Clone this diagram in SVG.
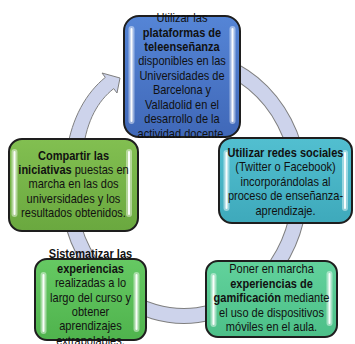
<svg xmlns="http://www.w3.org/2000/svg" width="355" height="344" viewBox="0 0 355 344">
<defs>
<linearGradient id="gBlue" x1="0" y1="0" x2="0" y2="1"><stop offset="0" stop-color="#5585d6"/><stop offset="1" stop-color="#4068b8"/></linearGradient>
<linearGradient id="gCyan" x1="0" y1="0" x2="0" y2="1"><stop offset="0" stop-color="#52bfd0"/><stop offset="1" stop-color="#3ea9bb"/></linearGradient>
<linearGradient id="gTeal" x1="0" y1="0" x2="0" y2="1"><stop offset="0" stop-color="#62d29c"/><stop offset="1" stop-color="#4cbf88"/></linearGradient>
<linearGradient id="gGreen" x1="0" y1="0" x2="0" y2="1"><stop offset="0" stop-color="#66c963"/><stop offset="1" stop-color="#4fb34d"/></linearGradient>
<linearGradient id="gOlive" x1="0" y1="0" x2="0" y2="1"><stop offset="0" stop-color="#82bf51"/><stop offset="1" stop-color="#6aa83f"/></linearGradient>
</defs>
<style>
.box{stroke:#1e1e1e;stroke-width:2}
.glow{fill:#ffffff;opacity:0.45}
.hl{fill:#ffffff;opacity:0.95}
.t{font-family:"Liberation Sans",Arial,sans-serif;font-size:12px;fill:#111111;text-anchor:middle}
.b{font-weight:bold}
.ringO{fill:none;stroke:#7f7f7f;stroke-width:16}
.ringI{fill:none;stroke:#cdd3eb;stroke-width:14}
.arrow{fill:#cdd3eb;stroke:#7f7f7f;stroke-width:1}
</style>
<g id="connectors">
<path class="ringO" d="M214,62.4 A116,129 0 1 1 71.95,153.6"/>
<path class="ringI" d="M214,62.4 A116,129 0 1 1 71.95,153.6"/>
<path class="arrow" d="M67,150 C72,118 86,93 105.3,77.4 L102,73 L120,78 L117,93 L113.7,88.6 C98,101 87,120 83,150 Z"/>
</g>
<g id="node1">
<rect class="box" x="124" y="16" width="116" height="121" rx="15" fill="url(#gBlue)"/>
<rect class="glow" x="128.5" y="26" width="6" height="98" rx="3"/>
<rect class="hl" x="130.5" y="28" width="2" height="94" rx="1"/>
<rect class="glow" x="229.5" y="26" width="6" height="98" rx="3"/>
<rect class="hl" x="231.5" y="28" width="2" height="94" rx="1"/>
<g transform="translate(182,0) scale(0.92,1)">
<text class="t" x="0" y="22">Utilizar las</text>
<text class="t b" x="0" y="37">plataformas de</text>
<text class="t b" x="0" y="51">teleenseñanza</text>
<text class="t" x="0" y="65.5">disponibles en las</text>
<text class="t" x="0" y="80">Universidades de</text>
<text class="t" x="0" y="94.5">Barcelona y</text>
<text class="t" x="0" y="109">Valladolid en el</text>
<text class="t" x="0" y="123.5">desarrollo de la</text>
<text class="t" x="0" y="138">actividad docente.</text>
</g>
</g>
<g id="node2">
<rect class="box" x="219" y="138" width="133" height="85" rx="13" fill="url(#gCyan)"/>
<rect class="glow" x="223.5" y="150" width="6" height="61" rx="3"/>
<rect class="hl" x="225.5" y="152" width="2" height="57" rx="1"/>
<rect class="glow" x="342" y="150" width="6" height="61" rx="3"/>
<rect class="hl" x="344" y="152" width="2" height="57" rx="1"/>
<g transform="translate(285.5,0) scale(0.92,1)">
<text class="t b" x="0" y="157">Utilizar redes sociales</text>
<text class="t" x="0" y="171.5">(Twitter o Facebook)</text>
<text class="t" x="0" y="186">incorporándolas al</text>
<text class="t" x="0" y="200.5">proceso de enseñanza-</text>
<text class="t" x="0" y="215">aprendizaje.</text>
</g>
</g>
<g id="node3">
<rect class="box" x="206" y="261" width="131" height="76" rx="12" fill="url(#gTeal)"/>
<rect class="glow" x="210.5" y="273" width="6" height="54" rx="3"/>
<rect class="hl" x="212.5" y="275" width="2" height="50" rx="1"/>
<rect class="glow" x="326.5" y="271" width="6" height="55" rx="3"/>
<rect class="hl" x="328.5" y="273" width="2" height="51" rx="1"/>
<g transform="translate(271.5,0) scale(0.92,1)">
<text class="t" x="0" y="273.5">Poner en marcha</text>
<text class="t b" x="0" y="288">experiencias de</text>
<text class="t" x="0" y="302.5"><tspan class="b">gamificación</tspan> mediante</text>
<text class="t" x="0" y="317">el uso de dispositivos</text>
<text class="t" x="0" y="331">móviles en el aula.</text>
</g>
</g>
<g id="node4">
<rect class="box" x="35" y="259" width="111" height="81" rx="12" fill="url(#gGreen)"/>
<rect class="glow" x="40.5" y="272" width="6" height="62" rx="3"/>
<rect class="hl" x="42.5" y="274" width="2" height="58" rx="1"/>
<rect class="glow" x="133.5" y="272" width="6" height="60" rx="3"/>
<rect class="hl" x="135.5" y="274" width="2" height="56" rx="1"/>
<g transform="translate(90.5,0) scale(0.92,1)">
<text class="t b" x="0" y="258">Sistematizar las</text>
<text class="t b" x="0" y="273">experiencias</text>
<text class="t" x="0" y="287.5">realizadas a lo</text>
<text class="t" x="0" y="302">largo del curso y</text>
<text class="t" x="0" y="316">obtener</text>
<text class="t" x="0" y="330.5">aprendizajes</text>
<text class="t" x="0" y="345">extrapolables.</text>
</g>
</g>
<g id="node5">
<rect class="box" x="9" y="139" width="129" height="92" rx="13" fill="url(#gOlive)"/>
<rect class="glow" x="11.5" y="149" width="6" height="68" rx="3"/>
<rect class="hl" x="13.5" y="151" width="2" height="64" rx="1"/>
<rect class="glow" x="126" y="149" width="6" height="68" rx="3"/>
<rect class="hl" x="128" y="151" width="2" height="64" rx="1"/>
<g transform="translate(73.5,0) scale(0.92,1)">
<text class="t b" x="0" y="160">Compartir las</text>
<text class="t" x="0" y="174.5"><tspan class="b">iniciativas</tspan> puestas en</text>
<text class="t" x="0" y="188.5">marcha en las dos</text>
<text class="t" x="0" y="203">universidades y los</text>
<text class="t" x="0" y="217">resultados obtenidos.</text>
</g>
</g>
</svg>
